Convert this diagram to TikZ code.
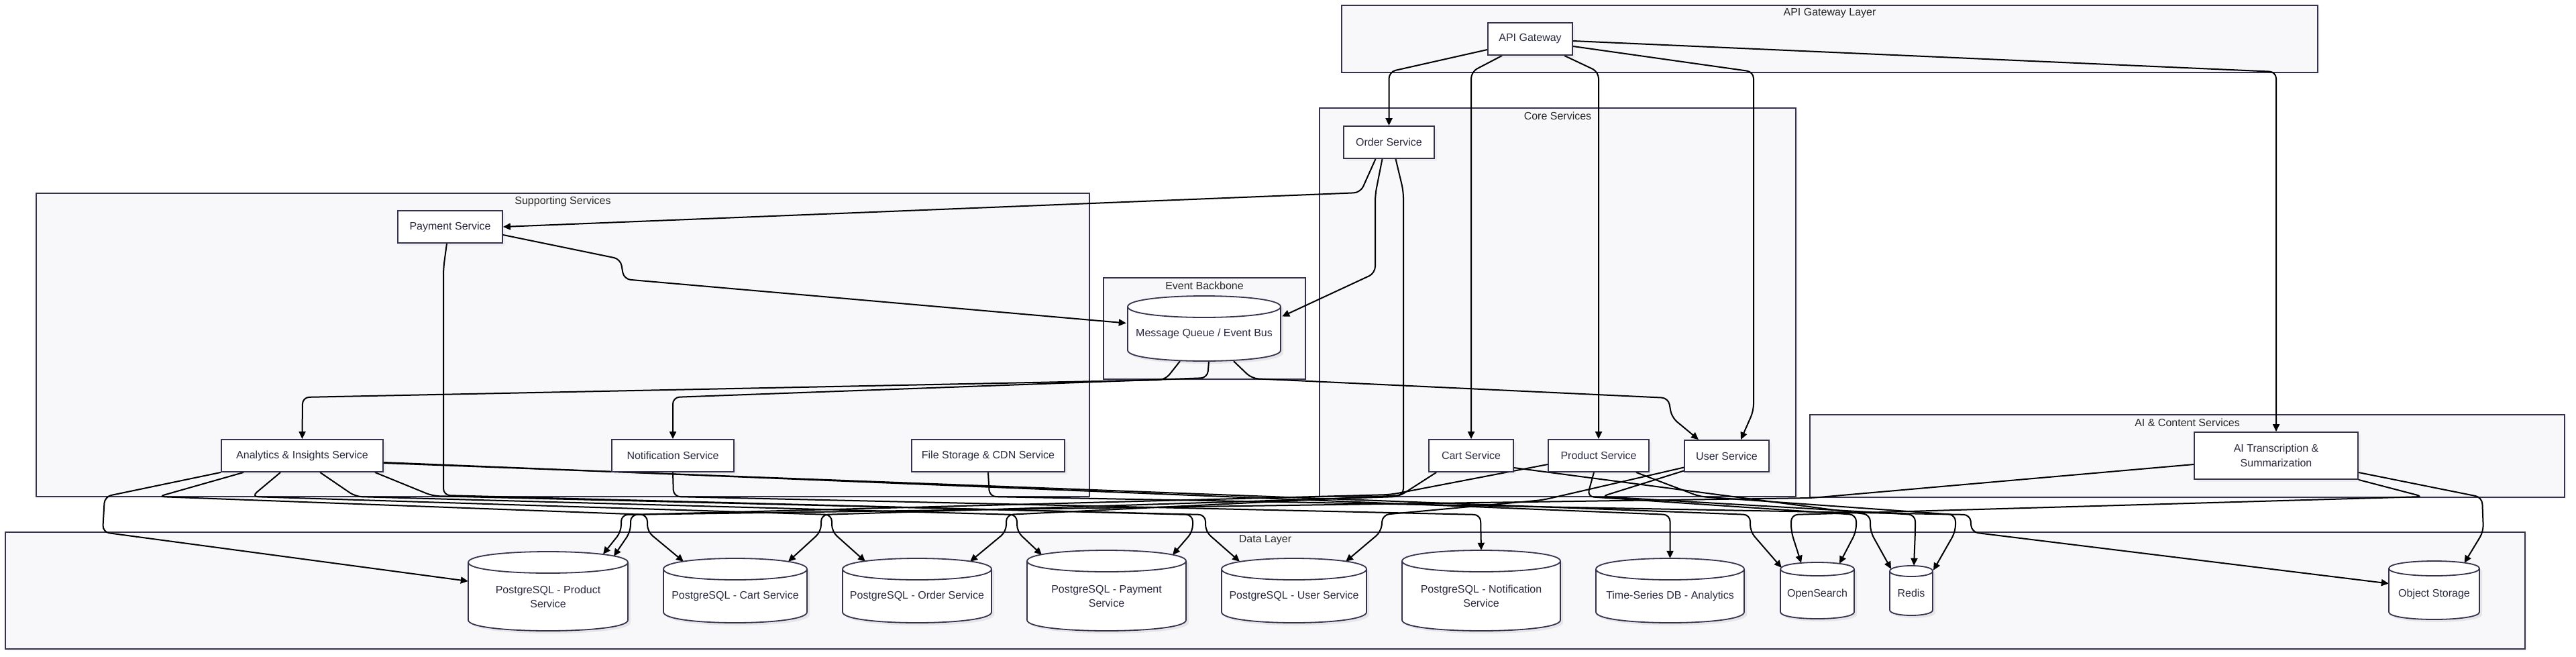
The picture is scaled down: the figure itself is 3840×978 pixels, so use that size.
\documentclass[tikz,border=0pt]{standalone}
\usepackage{fontspec}
\setmainfont{Liberation Sans}
\usetikzlibrary{arrows.meta,shadows}
\definecolor{clfill}{HTML}{F8F8FA}
\definecolor{clborder}{HTML}{33334D}
\definecolor{txt}{HTML}{2A2A40}
\pgfdeclarelayer{bg}
\pgfdeclarelayer{edgelayer}
\pgfsetlayers{bg,edgelayer,main}
\newcommand{\clusterbox}[6]{%
  \node[cluster, minimum width={(#4-#2)*1pt}, minimum height={(#5-#3)*1pt}] (#1) at ({(#2+#4)/2},{(#3+#5)/2}) {};
  \node[ctitle] (#1-title) at ({(#2+#4)/2},{#3+12}) {#6};}
\newcommand{\svcnode}[6]{%
  \node[svc, minimum width={(#4-#2)*1pt}, minimum height={(#5-#3)*1pt}] (#1) at ({(#2+#4)/2},{(#3+#5)/2}) {#6};}
\newcommand{\dbcyl}[7]{%
  \fill[black,opacity=0.07] ({#2+4},{#3+#6+4}) -- ({#2+4},{#5-#6+4}) .. controls ({#2+4},{#5+#6/3+4}) and ({#4+4},{#5+#6/3+4}) .. ({#4+4},{#5-#6+4}) -- ({#4+4},{#3+#6+4}) .. controls ({#4+4},{#3-#6/3+4}) and ({#2+4},{#3-#6/3+4}) .. cycle;
  \filldraw[dbline] (#2,{#3+#6}) -- (#2,{#5-#6}) .. controls (#2,{#5+#6/3}) and (#4,{#5+#6/3}) .. (#4,{#5-#6}) -- (#4,{#3+#6}) .. controls (#4,{#3-#6/3}) and (#2,{#3-#6/3}) .. cycle;
  \draw[dbline] (#2,{#3+#6}) .. controls (#2,{#3+#6*7/3}) and (#4,{#3+#6*7/3}) .. (#4,{#3+#6});
  \node[anchorbox, minimum width={(#4-#2)*1pt}, minimum height={(#5-#3)*1pt}] (#1) at ({(#2+#4)/2},{(#3+#5)/2}) {};
  \node[dbtext] (#1-label) at ({(#2+#4)/2},{(#3+#5)/2+#6/2}) {#7};}
\begin{document}
\begin{tikzpicture}[x=1pt,y=-1pt,
  cluster/.style={draw=clborder, line width=1.5pt, fill=clfill, inner sep=0pt,
    drop shadow={shadow xshift=3pt, shadow yshift=-3pt, opacity=0.06}},
  ctitle/.style={text=black!85, font=\fontsize{16}{19}\selectfont, inner sep=0pt},
  svc/.style={draw=clborder, line width=1.8pt, fill=white, text=txt, align=center, inner sep=0pt,
    font=\fontsize{16}{22}\selectfont,
    drop shadow={shadow xshift=4pt, shadow yshift=-4pt, opacity=0.08}},
  dbline/.style={draw=clborder, line width=1.8pt, fill=white},
  anchorbox/.style={inner sep=0pt, draw=none, fill=none},
  dbtext/.style={text=txt, align=center, inner sep=0pt, font=\fontsize{16}{21}\selectfont},
  edge/.style={draw=black, line width=2pt, rounded corners=10pt, -{Triangle[length=11pt,width=10pt]}}]
\useasboundingbox (0,0) rectangle (3840,978);

\begin{pgfonlayer}{bg}
\clusterbox{apil}{2000}{8}{3455}{108}{API Gateway Layer}
\clusterbox{corecl}{1967}{161}{2677}{740}{Core Services}
\clusterbox{suppcl}{54}{288}{1624}{740}{Supporting Services}
\clusterbox{evcl}{1645}{414}{1946}{565}{Event Backbone}
\clusterbox{aicl}{2698}{618}{3823}{741}{AI \& Content Services}
\clusterbox{datacl}{8}{793}{3764}{967}{Data Layer}
\end{pgfonlayer}

% services
\svcnode{api}{2218}{34}{2344}{82}{API Gateway}
\svcnode{order}{2003}{188}{2138}{236}{Order Service}
\svcnode{cart}{2130}{655}{2256}{703}{Cart Service}
\svcnode{product}{2308}{655}{2458}{703}{Product Service}
\svcnode{user}{2511}{656}{2637}{703}{User Service}
\svcnode{payment}{593}{314}{749}{362}{Payment Service}
\svcnode{analytics}{330}{655}{571}{703}{Analytics \& Insights Service}
\svcnode{notif}{912}{655}{1094}{703}{Notification Service}
\svcnode{file}{1359}{655}{1587}{703}{File Storage \& CDN Service}
\svcnode{ai}{3271}{644}{3515}{714}{AI Transcription \&\\Summarization}

% databases
\dbcyl{mq}{1681}{441}{1909}{538}{16}{Message Queue / Event Bus}
\dbcyl{pgproduct}{698}{822}{936}{940}{16}{PostgreSQL - Product\\Service}
\dbcyl{pgcart}{989}{832}{1203}{928}{16}{PostgreSQL - Cart Service}
\dbcyl{pgorder}{1256}{832}{1478}{928}{16}{PostgreSQL - Order Service}
\dbcyl{pgpayment}{1531}{820}{1768}{940}{16}{PostgreSQL - Payment\\Service}
\dbcyl{pguser}{1821}{832}{2037}{928}{16}{PostgreSQL - User Service}
\dbcyl{pgnotif}{2090}{820}{2326}{940}{16}{PostgreSQL - Notification\\Service}
\dbcyl{ts}{2379}{832}{2600}{928}{16}{Time-Series DB - Analytics}
\dbcyl{opensearch}{2654}{838}{2764}{922}{10}{OpenSearch}
\dbcyl{redis}{2817}{843}{2881}{917}{8}{Redis}
\dbcyl{objst}{3561}{836}{3696}{923}{11}{Object Storage}

\begin{pgfonlayer}{edgelayer}
% API gateway
\draw[edge] ([yshift=-16pt]api.west) -- (2070.5,107) -- (order.north);
\draw[edge] ([xshift=22pt]api.south west) -- (2193,107) -- (cart.north);
\draw[edge] ([xshift=-13pt]api.south east) -- (2383,107) -- (product.north);
\draw[edge] ([yshift=-11pt]api.east) -- (2614,107) -- (2614,612) -- ([xshift=21pt]user.north);
\draw[edge] ([yshift=-3pt]api.east) -- (3393,107) -- (ai.north);
% order
\draw[edge] ([xshift=-20pt]order.south) -- (2028,287) -- (payment.east);
\draw[edge] ([xshift=-10pt]order.south) -- (2050,290) -- (2050,407) -- ([xshift=2pt,yshift=18pt]mq.east);
\draw[edge] ([xshift=10pt]order.south) -- (2092,285) -- (2092,738) -- (1500,767) -- (1500,792) -- ([xshift=79pt,yshift=-5pt]pgorder.north);
% payment
\draw[edge] ([yshift=-12pt]payment.east) -- (925,386) -- (930,416) -- ([xshift=-2pt,yshift=8pt]mq.west);
\draw[edge] ([xshift=-5pt]payment.south) -- (661,400) -- (661,738) -- (1778,767) -- (1778,792) -- ([xshift=98.5pt,yshift=-7pt]pgpayment.north);
% message queue
\draw[edge] ([xshift=-36pt]mq.south) -- (1737,566) -- (451,592) -- (analytics.north);
\draw[edge] ([xshift=7pt]mq.south) -- (1800,563) -- (1003,592) -- (notif.north);
\draw[edge] ([xshift=44pt]mq.south) -- (1866,564) -- (2487,593) -- (2492,622) -- ([xshift=-42pt]user.north);
% analytics
\draw[edge] (analytics.south west) -- (156,740) -- (153,793) -- ([yshift=15pt]pgproduct.west);
\draw[edge] ([xshift=34pt]analytics.south west) -- (236,740) -- (965,767) -- (965,792) -- ([xshift=-77pt,yshift=-5pt]pgcart.north);
\draw[edge] ([xshift=89pt]analytics.south west) -- (375,740) -- (1240,767) -- (1240,792) -- ([xshift=-77pt,yshift=-5pt]pgorder.north);
\draw[edge] ([xshift=148pt]analytics.south west) -- (530,740) -- (1516,767) -- (1516,792) -- ([xshift=-96.5pt,yshift=-7pt]pgpayment.north);
\draw[edge] ([xshift=-13pt]analytics.south east) -- (645,739) -- (1797,767) -- (1797,792) -- ([xshift=-81pt,yshift=-5pt]pguser.north);
\draw[edge] ([yshift=-10pt]analytics.east) -- (2489.5,767) -- (ts.north);
\draw[edge] ([yshift=-11pt]analytics.east) -- (2609,767) -- (2609,792) -- ([xshift=2pt,yshift=34pt]opensearch.west);
% product
\draw[edge] ([yshift=-13pt]product.west) -- (2073,737) -- (940,767) -- (940,792) -- ([xshift=98pt,yshift=-7pt]pgproduct.north);
\draw[edge] ([xshift=-7pt]product.south) -- (2366,740) -- (2767,767) -- (2767,792) -- ([xshift=33pt,yshift=-2pt]opensearch.north);
\draw[edge] ([xshift=-20pt]product.south east) -- (2534,740) -- (2915,767) -- (2915,792) -- ([xshift=33pt,yshift=-7pt]redis.north);
% cart
\draw[edge] ([xshift=12pt]cart.south west) -- (2085,740) -- (1224,767) -- (1224,792) -- ([xshift=79pt,yshift=-5pt]pgcart.north);
\draw[edge] ([yshift=-18pt]cart.east) -- (2788,767) -- (2788,792) -- ([xshift=-30pt,yshift=-5pt]redis.north);
% user
\draw[edge] ([yshift=-17pt]user.west) -- (2300,745) -- (2061,767) -- (2059,792) -- ([xshift=77pt,yshift=-5pt]pguser.north);
\draw[edge] ([yshift=-22pt]user.west) -- (2387,740) -- (2855,767) -- (2855,792) -- ([xshift=4pt]redis.north);
% notification, file
\draw[edge] (notif.south) -- (1004,740) -- (2207,767) -- (pgnotif.north);
\draw[edge] (file.south) -- (1475,740) -- (2937,767) -- (2939,793) -- ([yshift=10pt]objst.west);
% AI
\draw[edge] ([yshift=-25pt]ai.east) -- (3700,741) -- (3702,792) -- ([xshift=45pt,yshift=-3pt]objst.north);
\draw[edge] (ai.south east) -- (3612,740) -- (2670,767) -- (2670,792) -- ([xshift=-24pt,yshift=-1pt]opensearch.north);
\draw[edge] ([yshift=-13pt]ai.west) -- (2700,742) -- (926,767) -- (926,792) -- ([xshift=82pt,yshift=-4pt]pgproduct.north);
\end{pgfonlayer}
\end{tikzpicture}
\end{document}
